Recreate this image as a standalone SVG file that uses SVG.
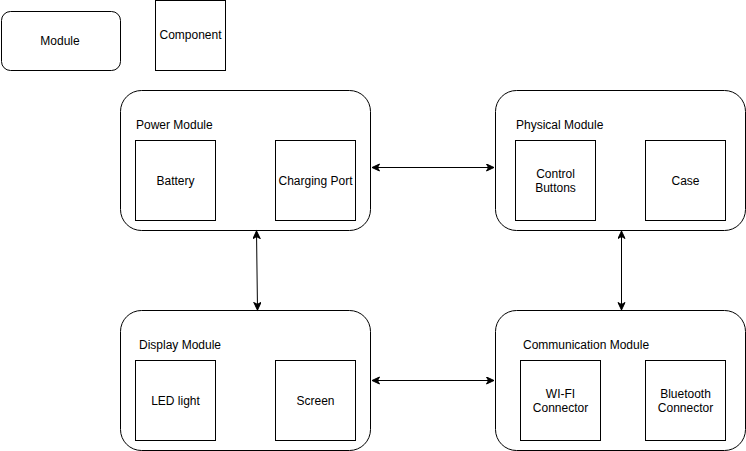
<svg xmlns="http://www.w3.org/2000/svg" width="746" height="451" viewBox="0 0 746 451">
<style>
.mod{fill:#fff;stroke:#000;stroke-width:1}
.box{fill:#fff;stroke:#000;stroke-width:1}
text{font-family:"Liberation Sans",Arial,Helvetica,sans-serif;font-size:12px;fill:#000}
.c{text-anchor:middle;dominant-baseline:central}
.l{dominant-baseline:central}
.conn{stroke:#000;stroke-width:1;fill:none}
</style>
<defs>
<marker id="arr" markerUnits="userSpaceOnUse" markerWidth="10" markerHeight="10" refX="8" refY="4" orient="auto-start-reverse">
<path d="M0.5,0.5 L8,4 L0.5,7.5 L2.5,4 Z" fill="#000" stroke="#000" stroke-width="1"/>
</marker>
</defs>
<rect width="746" height="451" fill="#fff"/>
<g id="legend-module">
<rect class="mod" x="1.5" y="11.5" width="119" height="59" rx="9" ry="9"/>
<text class="c" x="60" y="41">Module</text>
</g>
<g id="legend-component">
<rect class="box" x="155.5" y="0.5" width="70" height="70"/>
<text class="c" x="190.5" y="35">Component</text>
</g>
<g id="power-module">
<rect class="mod" x="120.5" y="90.5" width="250" height="140" rx="21" ry="21"/>
<text class="l" x="136" y="125">Power Module</text>
<g id="battery"><rect class="box" x="135.5" y="140.5" width="80" height="80"/><text class="c" x="175.5" y="181">Battery</text></g>
<g id="charging-port"><rect class="box" x="275.5" y="140.5" width="80" height="80"/><text class="c" x="315.5" y="181">Charging Port</text></g>
</g>
<g id="physical-module">
<rect class="mod" x="495.5" y="90.5" width="250" height="140" rx="21" ry="21"/>
<text class="l" x="516" y="125">Physical Module</text>
<g id="control-buttons"><rect class="box" x="515.5" y="140.5" width="80" height="80"/><text class="c" x="555.5" y="174">Control</text><text class="c" x="555.5" y="188">Buttons</text></g>
<g id="case"><rect class="box" x="645.5" y="140.5" width="80" height="80"/><text class="c" x="685.5" y="181">Case</text></g>
</g>
<g id="display-module">
<rect class="mod" x="120.5" y="310.5" width="250" height="140" rx="21" ry="21"/>
<text class="l" x="139" y="345">Display Module</text>
<g id="led-light"><rect class="box" x="135.5" y="360.5" width="80" height="80"/><text class="c" x="175.5" y="401">LED light</text></g>
<g id="screen"><rect class="box" x="275.5" y="360.5" width="80" height="80"/><text class="c" x="315.5" y="401">Screen</text></g>
</g>
<g id="communication-module">
<rect class="mod" x="495.5" y="310.5" width="250" height="140" rx="21" ry="21"/>
<text class="l" x="523" y="345">Communication Module</text>
<g id="wifi-connector"><rect class="box" x="520.5" y="360.5" width="80" height="80"/><text class="c" x="560.5" y="394">WI-FI</text><text class="c" x="560.5" y="408">Connector</text></g>
<g id="bluetooth-connector"><rect class="box" x="645.5" y="360.5" width="80" height="80"/><text class="c" x="685.5" y="394">Bluetooth</text><text class="c" x="685.5" y="408">Connector</text></g>
</g>
<g id="connectors">
<line class="conn" x1="372" y1="167.5" x2="494" y2="167.5" marker-start="url(#arr)" marker-end="url(#arr)"/>
<line class="conn" x1="372" y1="380.5" x2="494" y2="380.5" marker-start="url(#arr)" marker-end="url(#arr)"/>
<line class="conn" x1="256.5" y1="231" x2="257.5" y2="310" marker-start="url(#arr)" marker-end="url(#arr)"/>
<line class="conn" x1="621.5" y1="231" x2="621.5" y2="310" marker-start="url(#arr)" marker-end="url(#arr)"/>
</g>
</svg>
